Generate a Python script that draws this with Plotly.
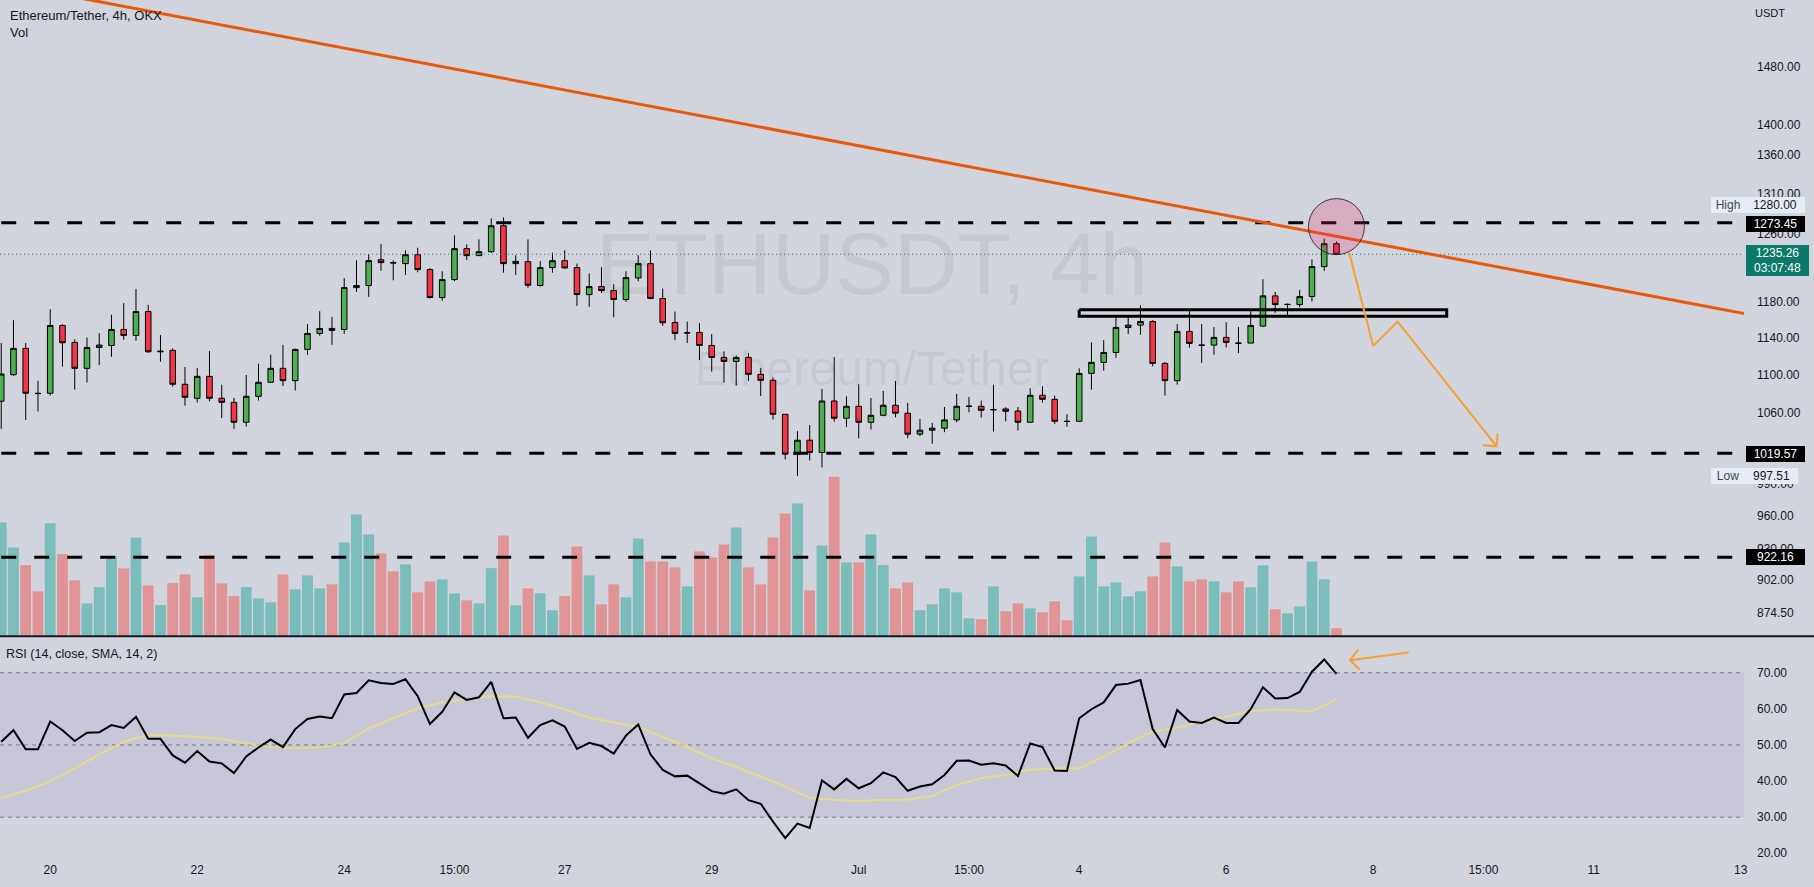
import math
import plotly.graph_objects as go

# ---------------- data ----------------
candle_idx = list(range(110))
open_ = [1072.0, 1099.8, 1128.1, 1080.3, 1080.3, 1153.3, 1134.6, 1106.6, 1129.1, 1131.3,
         1148.9, 1142.3, 1168.9, 1124.4, 1125.9, 1089.7, 1075.1, 1098.1, 1075.1, 1070.9,
         1050.5, 1077.1, 1091.8, 1106.6, 1093.5, 1127.0, 1144.5, 1150.0, 1148.9, 1196.2,
         1198.6, 1228.9, 1225.4, 1224.2, 1234.8, 1217.2, 1184.8, 1205.5, 1242.0, 1233.7,
         1238.4, 1269.8, 1224.2, 1226.5, 1198.6, 1219.5, 1227.7, 1219.5, 1188.2, 1197.4,
         1192.8, 1182.5, 1207.4, 1224.2, 1183.7, 1156.6, 1144.9, 1145.6, 1131.3, 1118.3,
         1114.0, 1118.3, 1100.2, 1093.9, 1058.6, 1018.7, 1032.5, 1020.3, 1072.3, 1054.6,
         1066.8, 1050.5, 1057.6, 1067.9, 1059.7, 1038.5, 1042.5, 1044.5, 1052.9, 1066.8,
         1066.8, 1063.2, 1064.1, 1062.0, 1050.5, 1078.2, 1074.0, 1051.5, 1051.5, 1101.2,
         1113.0, 1123.7, 1151.1, 1153.7, 1157.8, 1111.9, 1093.5, 1146.7, 1131.7, 1131.7,
         1140.1, 1133.9, 1133.9, 1152.6, 1186.7, 1176.8, 1176.8, 1185.9, 1220.7, 1248.0]
high = [1133.9, 1159.2, 1133.9, 1093.5, 1171.6, 1154.8, 1138.2, 1140.1, 1144.8, 1165.2,
        1178.4, 1194.7, 1176.5, 1142.6, 1128.1, 1108.0, 1106.9, 1125.2, 1089.3, 1075.4,
        1099.5, 1111.5, 1121.2, 1132.0, 1127.7, 1154.8, 1169.3, 1162.9, 1207.0, 1228.1,
        1235.2, 1247.6, 1228.1, 1240.0, 1243.2, 1219.1, 1215.2, 1258.0, 1247.2, 1253.2,
        1278.8, 1280.0, 1234.1, 1253.2, 1227.3, 1237.2, 1240.0, 1224.2, 1212.9, 1219.9,
        1200.1, 1215.2, 1234.1, 1240.0, 1195.1, 1168.9, 1157.8, 1155.9, 1143.7, 1124.8,
        1120.5, 1123.0, 1106.9, 1096.7, 1058.6, 1041.5, 1047.8, 1084.8, 1118.7, 1077.1,
        1089.7, 1075.4, 1082.7, 1093.2, 1070.3, 1053.9, 1049.9, 1066.1, 1079.6, 1076.5,
        1072.7, 1089.3, 1065.8, 1066.1, 1085.5, 1087.6, 1077.8, 1058.6, 1106.6, 1134.6,
        1137.1, 1162.2, 1162.2, 1176.1, 1159.2, 1113.3, 1154.8, 1171.6, 1154.8, 1151.5,
        1157.0, 1151.5, 1169.3, 1205.9, 1191.3, 1178.0, 1193.6, 1229.3, 1254.0, 1250.8]
low = [1043.8, 1098.8, 1052.9, 1061.4, 1077.8, 1108.3, 1084.1, 1091.4, 1110.1, 1119.1,
       1137.5, 1136.4, 1123.4, 1113.7, 1087.2, 1067.5, 1070.6, 1072.0, 1054.9, 1043.8,
       1046.2, 1072.7, 1091.6, 1087.9, 1083.0, 1121.2, 1141.9, 1132.0, 1144.1, 1191.3,
       1185.6, 1215.6, 1204.7, 1210.9, 1214.0, 1183.7, 1181.0, 1203.6, 1228.5, 1233.6,
       1237.2, 1213.6, 1210.9, 1195.9, 1197.4, 1213.6, 1218.3, 1175.3, 1174.2, 1190.1,
       1162.6, 1179.9, 1203.6, 1182.9, 1152.9, 1137.1, 1133.9, 1115.5, 1103.0, 1091.4,
       1088.3, 1093.2, 1077.5, 1053.2, 1013.5, 997.51, 1012.5, 1005.7, 1051.2, 1045.8,
       1034.2, 1043.2, 1056.6, 1055.6, 1034.5, 1036.5, 1028.9, 1040.5, 1050.5, 1060.7,
       1055.3, 1041.1, 1051.5, 1042.2, 1050.3, 1070.6, 1048.9, 1045.8, 1051.0, 1084.1,
       1104.1, 1118.0, 1143.7, 1143.0, 1108.7, 1077.8, 1089.3, 1128.8, 1112.3, 1121.2,
       1129.1, 1123.0, 1133.7, 1151.8, 1167.4, 1164.8, 1173.8, 1180.3, 1215.6, 1235.0]
close = [1100.5, 1128.1, 1080.3, 1080.0, 1153.3, 1134.2, 1106.6, 1129.1, 1131.7, 1148.9,
         1142.3, 1168.9, 1124.4, 1125.0, 1089.7, 1076.1, 1098.1, 1075.1, 1070.9, 1050.5,
         1077.1, 1091.8, 1106.6, 1093.5, 1127.0, 1144.5, 1150.0, 1147.8, 1196.2, 1198.6,
         1227.7, 1225.4, 1225.0, 1234.8, 1217.2, 1184.8, 1205.5, 1242.0, 1233.7, 1238.4,
         1269.8, 1224.2, 1226.9, 1198.9, 1219.5, 1227.7, 1219.1, 1188.2, 1197.4, 1192.8,
         1182.5, 1207.8, 1224.2, 1183.7, 1156.3, 1144.5, 1145.2, 1131.3, 1118.3, 1114.0,
         1118.3, 1100.2, 1093.9, 1058.6, 1018.7, 1032.5, 1020.3, 1072.3, 1054.6, 1066.8,
         1050.5, 1057.6, 1067.9, 1059.7, 1038.5, 1042.5, 1044.5, 1052.9, 1066.8, 1066.9,
         1062.7, 1063.4, 1061.7, 1050.5, 1078.2, 1074.0, 1051.5, 1051.3, 1101.2, 1113.0,
         1123.7, 1151.1, 1153.7, 1157.8, 1111.9, 1093.5, 1146.7, 1133.5, 1131.5, 1140.1,
         1134.6, 1133.7, 1153.3, 1186.7, 1176.8, 1177.0, 1185.9, 1220.7, 1248.0, 1235.26]
volume = [113.7, 88.7, 71.0, 44.7, 113.0, 82.0, 55.7, 32.7, 49.0, 80.0,
          67.7, 98.7, 50.7, 31.0, 53.0, 61.7, 38.7, 81.0, 52.7, 40.0,
          49.0, 37.7, 33.7, 61.7, 46.7, 60.7, 47.7, 51.7, 93.7, 121.7,
          101.7, 82.7, 64.7, 71.7, 43.7, 54.7, 56.7, 42.7, 35.7, 32.7,
          68.0, 100.7, 30.7, 47.7, 42.7, 25.7, 40.0, 89.7, 60.7, 31.7,
          51.7, 38.7, 97.7, 74.7, 74.7, 68.7, 49.7, 84.7, 78.7, 91.7,
          108.7, 68.7, 51.7, 98.7, 122.7, 132.7, 45.7, 90.7, 159.6, 73.7,
          73.7, 101.7, 71.0, 47.7, 53.7, 25.7, 31.7, 47.7, 43.7, 17.7,
          16.7, 49.7, 24.7, 32.7, 27.7, 23.7, 34.7, 15.7, 59.7, 99.7,
          49.7, 53.7, 39.7, 44.7, 59.7, 93.7, 69.7, 54.7, 56.7, 54.7,
          43.7, 54.7, 48.7, 70.7, 26.7, 22.7, 29.7, 74.7, 56.7, 7.7]
rsi = [50.9, 54.1, 48.8, 48.8, 56.5, 54.1, 51.1, 53.4, 53.5, 55.5,
       54.7, 57.8, 51.7, 51.7, 47.1, 45.1, 48.3, 45.4, 44.9, 42.2,
       46.8, 49.3, 51.5, 49.4, 54.4, 57.2, 57.9, 57.4, 64.0, 64.4,
       67.9, 67.2, 66.9, 68.2, 63.5, 55.8, 59.2, 64.6, 62.5, 63.2,
       67.5, 57.4, 57.6, 52.0, 55.5, 56.8, 55.1, 48.9, 50.6, 49.7,
       47.6, 52.6, 55.7, 47.4, 43.1, 41.3, 41.5, 39.3, 37.2, 36.5,
       37.7, 34.7, 33.7, 28.8, 24.2, 28.2, 27.0, 40.2, 37.7, 40.6,
       38.0, 39.4, 42.4, 41.1, 37.3, 38.5, 39.1, 41.7, 45.6, 45.7,
       44.5, 44.9, 44.3, 41.4, 50.4, 49.4, 42.9, 42.8, 57.4, 59.9,
       61.8, 66.6, 67.0, 68.0, 54.4, 49.3, 59.7, 56.5, 56.1, 57.6,
       56.1, 56.1, 59.9, 66.0, 62.9, 63.0, 64.7, 70.3, 73.7, 69.7]
rsi_ma_idx = [0, 2, 4, 6, 8, 10, 12, 14, 16, 18, 20, 22, 24, 26, 28, 30, 32, 34, 36, 38,
              40, 42, 44, 46, 48, 50, 52, 54, 56, 58, 60, 62, 64, 66, 68, 70, 72, 74, 76,
              78, 80, 82, 84, 86, 88, 90, 92, 94, 96, 98, 100, 102, 104, 106, 107, 108, 109]
rsi_ma = [35.4, 37.3, 39.9, 43.5, 47.4, 50.9, 52.8, 52.6, 52.3, 51.6, 50.5, 49.4, 49.1, 49.3,
          50.5, 54.6, 57.4, 60.1, 61.8, 62.7, 63.5, 63.4, 61.8, 59.9, 57.6, 56.2, 55.0, 52.2,
          49.5, 46.3, 43.9, 41.2, 38.5, 35.4, 34.8, 34.5, 34.8, 34.8, 35.9, 38.9, 40.8, 41.7,
          43.1, 43.5, 43.5, 46.8, 50.5, 53.7, 54.8, 56.5, 57.8, 59.4, 59.8, 59.5, 59.4, 60.9,
          62.7]
time_tick_idx = [4, 16, 28, 37, 46, 58, 70, 79, 88, 100, 112, 121, 130, 142]
time_tick_text = ['20', '22', '24', '15:00', '27', '29', 'Jul', '15:00', '4', '6', '8',
                  '15:00', '11', '13']
price_ticks = [874.5, 902, 930, 960, 990, 1020, 1060, 1100, 1140, 1180, 1220, 1260, 1310,
               1360, 1400, 1480]
rsi_ticks = [20, 30, 40, 50, 60, 70]
level_prices = [1273.45, 1019.57, 922.16]
level_labels = ['1273.45', '1019.57', '922.16']
last_price = 1235.26
countdown = '03:07:48'
high_price = 1280.00
low_price = 997.51

# drawings (index, price)
trend_x = [-0.1, 142.35]
trend_y = [1605.0, 1166.4]
zigzag_x = [110.04, 112.0, 114.0, 122.08, None, 120.93, 122.08, 122.16]
zigzag_y = [1237.2, 1130.8, 1157.6, 1026.4, None, 1027.4, 1026.4, 1039.3]
zone_x = [88.0, 118.0, 118.0, 88.0, 88.0]
zone_y = [1171.0, 1171.0, 1163.6, 1163.6, 1171.0]
circle_center = (109.0, 1268.7)
circle_radius_px = 28
rsi_arrow_x = [114.9, 110.1, None, 110.8, 110.1, 110.9]
rsi_arrow_y = [75.6, 73.5, None, 76.5, 73.5, 70.9]

# ---------------- styling / layout constants ----------------
W, H = 1814, 887
PLOT_W = 1744
X_MIN, X_MAX = -0.1, 142.27
PRICE_LOG_RANGE = [2.93187, 3.19830]
VOL_AXIS_MAX = 637.4
RSI_RANGE = [18.66, 80.04]
BG = '#D1D4DC'
TXT = '#131722'
FONT = 'Liberation Sans, Arial, sans-serif'


def px(xp):
    return xp / PLOT_W


def py(yp):
    return 1 - yp / H


def price_to_base(p):
    # position of a price on the (linear) base axis that shares the price pane
    lo, hi = PRICE_LOG_RANGE
    return (math.log10(p) - lo) / (hi - lo) * VOL_AXIS_MAX


fig = go.Figure()

# watermark (base layer, below candles)
fig.add_trace(go.Scatter(
    x=[71.08, 71.08], y=[price_to_base(1214.7), price_to_base(1101.6)], mode='text',
    text=['ETHUSDT, 4h', 'Ethereum/Tether'],
    textfont=dict(size=[88, 48], family='Liberation Sans, sans-serif',
                  color='rgba(120,123,134,0.13)'),
    xaxis='x', yaxis='y', hoverinfo='skip', showlegend=False))

# volume
vol_colors = ['rgba(38,166,154,0.5)' if c >= o else 'rgba(239,83,80,0.5)'
              for o, c in zip(open_, close)]
fig.add_trace(go.Bar(x=candle_idx, y=volume, marker=dict(color=vol_colors, line=dict(width=0)),
                     width=0.88, xaxis='x', yaxis='y', hoverinfo='skip', showlegend=False))

# candles
fig.add_trace(go.Candlestick(
    x=candle_idx, open=open_, high=high, low=low, close=close,
    increasing=dict(fillcolor='#4CAF50', line=dict(color='#000000', width=1)),
    decreasing=dict(fillcolor='#F23645', line=dict(color='#000000', width=1)),
    whiskerwidth=0, xaxis='x', yaxis='y3', showlegend=False, hoverinfo='skip'))

# last price dotted line
fig.add_trace(go.Scatter(x=[X_MIN, X_MAX], y=[last_price, last_price], mode='lines',
                         line=dict(color='rgba(8,110,95,0.9)', width=1, dash='1px,3px'),
                         xaxis='x', yaxis='y3', hoverinfo='skip', showlegend=False))

# dashed horizontal levels
for lp in level_prices:
    fig.add_trace(go.Scatter(x=[X_MIN + 0.1, X_MAX], y=[lp, lp], mode='lines',
                             line=dict(color='#000000', width=3, dash='15px,18px'),
                             xaxis='x', yaxis='y3', hoverinfo='skip', showlegend=False))

# zone rectangle
fig.add_trace(go.Scatter(x=zone_x, y=zone_y, mode='lines',
                         line=dict(color='#000000', width=3),
                         xaxis='x', yaxis='y3', hoverinfo='skip', showlegend=False))

# trend line
fig.add_trace(go.Scatter(x=trend_x, y=trend_y, mode='lines',
                         line=dict(color='#E8590C', width=3),
                         xaxis='x', yaxis='y3', hoverinfo='skip', showlegend=False))

# orange projection arrow
fig.add_trace(go.Scatter(x=zigzag_x, y=zigzag_y, mode='lines',
                         line=dict(color='#F5A030', width=2),
                         xaxis='x', yaxis='y3', hoverinfo='skip', showlegend=False))

# RSI
fig.add_trace(go.Scatter(x=rsi_ma_idx, y=rsi_ma, mode='lines',
                         line=dict(color='rgba(255,235,59,0.55)', width=2),
                         xaxis='x2', yaxis='y2', hoverinfo='skip', showlegend=False))
fig.add_trace(go.Scatter(x=candle_idx, y=rsi, mode='lines',
                         line=dict(color='#000000', width=2),
                         xaxis='x2', yaxis='y2', hoverinfo='skip', showlegend=False))
fig.add_trace(go.Scatter(x=rsi_arrow_x, y=rsi_arrow_y, mode='lines',
                         line=dict(color='#F5A030', width=2),
                         xaxis='x2', yaxis='y2', hoverinfo='skip', showlegend=False))

shapes = []
# RSI band and levels
shapes.append(dict(type='rect', xref='paper', yref='y2', x0=0, x1=1, y0=30, y1=70,
                   fillcolor='rgba(126,87,194,0.1)', line=dict(width=0), layer='below'))
for lv in [70, 50, 30]:
    shapes.append(dict(type='line', xref='paper', yref='y2', x0=0, x1=1, y0=lv, y1=lv,
                       line=dict(color='#787B86', width=1, dash='4px,4px'), layer='below'))
# pane separator
shapes.append(dict(type='line', xref='paper', yref='paper', x0=0, x1=W / PLOT_W,
                   y0=py(637.8), y1=py(637.8), line=dict(color='#131722', width=2)))
# circle around the rejection (anchored on the linear base axis of the price pane)
r = circle_radius_px
shapes.append(dict(type='circle', xref='x', yref='y', xsizemode='pixel', ysizemode='pixel',
                   xanchor=circle_center[0], yanchor=price_to_base(circle_center[1]),
                   x0=-r, x1=r, y0=-r, y1=r,
                   fillcolor='rgba(233,30,99,0.22)', line=dict(color='rgba(40,30,40,0.85)', width=1),
                   layer='above'))

ann = []
ann.append(dict(text='Ethereum/Tether, 4h, OKX', x=px(8), y=py(16), xref='paper', yref='paper',
                xanchor='left', yanchor='middle', showarrow=False,
                font=dict(size=13, color=TXT, family=FONT)))
ann.append(dict(text='Vol', x=px(8), y=py(33), xref='paper', yref='paper',
                xanchor='left', yanchor='middle', showarrow=False,
                font=dict(size=13, color=TXT, family=FONT)))
ann.append(dict(text='RSI (14, close, SMA, 14, 2)', x=px(4), y=py(655), xref='paper', yref='paper',
                xanchor='left', yanchor='middle', showarrow=False,
                font=dict(size=12.5, color=TXT, family=FONT)))
ann.append(dict(text='USDT', x=px(1770), y=py(13), xref='paper', yref='paper',
                xanchor='center', yanchor='middle', showarrow=False,
                font=dict(size=11, color=TXT, family=FONT)))


def box(text, x0, x1, y0, y1, bg, fg, size=12):
    ann.append(dict(text=text, x=px((x0 + x1) / 2), y=py((y0 + y1) / 2), xref='paper', yref='paper',
                    xanchor='center', yanchor='middle', showarrow=False, width=x1 - x0,
                    height=y1 - y0, bgcolor=bg, borderpad=0, borderwidth=0,
                    font=dict(size=size, color=fg, family=FONT)))


box('High', 1711, 1745, 198, 213.5, '#E6ECF5', '#434651')
box('%.2f' % high_price, 1745, 1805, 198, 213.5, '#E6ECF5', TXT)
box(level_labels[0], 1746, 1805, 216.5, 232, '#000000', '#FFFFFF')
box('%.2f<br>%s' % (last_price, countdown), 1746, 1809, 246, 277, '#0B7A68', '#FFFFFF')
box(level_labels[1], 1746, 1805, 446.8, 462.3, '#000000', '#FFFFFF')
box('Low', 1711, 1745, 469, 484.5, '#E6ECF5', '#434651')
box('%.2f' % low_price, 1745, 1798, 469, 484.5, '#E6ECF5', TXT)
box(level_labels[2], 1746, 1805, 551, 566.5, '#000000', '#FFFFFF')

fig.update_layout(
    width=W, height=H, margin=dict(l=0, r=W - PLOT_W, t=0, b=0),
    paper_bgcolor=BG, plot_bgcolor=BG, showlegend=False, boxgap=0.35,
    font=dict(family=FONT, size=12, color=TXT),
    xaxis=dict(domain=[0, 1], range=[X_MIN, X_MAX], anchor='y', visible=False,
               rangeslider=dict(visible=False), showgrid=False, zeroline=False),
    xaxis2=dict(domain=[0, 1], range=[X_MIN, X_MAX], anchor='y2', matches='x',
                tickvals=time_tick_idx, ticktext=time_tick_text, ticks='', showgrid=False,
                zeroline=False, showline=False, tickfont=dict(size=12, color=TXT),
                ticklabelstandoff=3),
    yaxis=dict(domain=[1 - 637.4 / H, 1], range=[0, VOL_AXIS_MAX], visible=False,
               showgrid=False, zeroline=False),
    yaxis3=dict(type='log', overlaying='y', anchor='x', side='right', range=PRICE_LOG_RANGE,
                tickvals=price_ticks, ticktext=['%.2f' % v for v in price_ticks], ticks='',
                showgrid=False, zeroline=False, showline=False, tickfont=dict(size=12, color=TXT),
                ticklabelstandoff=12),
    yaxis2=dict(domain=[27 / H, 249 / H], range=RSI_RANGE, anchor='x2', side='right',
                tickvals=rsi_ticks, ticktext=['%.2f' % v for v in rsi_ticks], ticks='',
                showgrid=False, zeroline=False, showline=False, tickfont=dict(size=12, color=TXT),
                ticklabelstandoff=12),
    shapes=shapes, annotations=ann,
)

fig.write_html('out.html', config=dict(displayModeBar=False))
